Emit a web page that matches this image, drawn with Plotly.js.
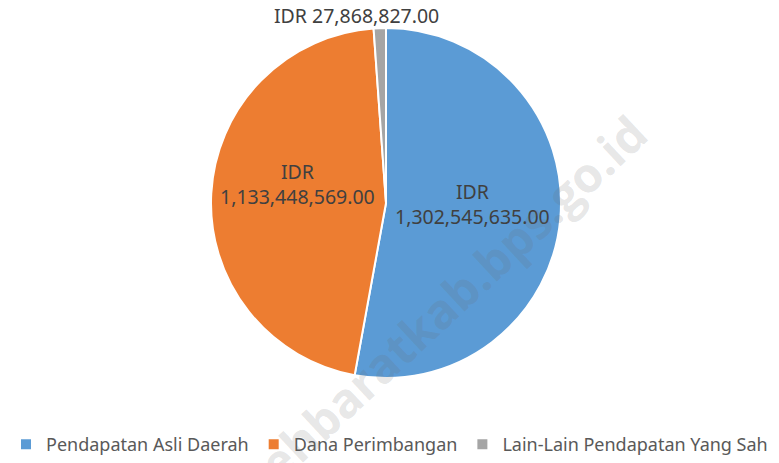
<!DOCTYPE html>
<html>
<head>
<meta charset="utf-8">
<script src="https://cdn.plot.ly/plotly-3.0.1.min.js"></script>
<style>html,body{margin:0;padding:0;background:#fff;}#chart{width:779px;height:463px;}</style>
</head>
<body>
<div id="chart"></div>
<script>
const categories = ["Pendapatan Asli Daerah", "Dana Perimbangan", "Lain-Lain Pendapatan Yang Sah"];
const values = [1302545635.00, 1133448569.00, 27868827.00];
const colors = ["#5B9BD5", "#ED7D31", "#A5A5A5"];
const currency = "IDR";
const watermark = "acehbaratkab.bps.go.id";

function fmt(v) {
  return v.toLocaleString("en-US", {minimumFractionDigits: 2, maximumFractionDigits: 2});
}

const W = 779, H = 463;
const cx = 386, cy = 203, r = 175;

const trace = {
  type: "pie",
  labels: categories,
  values: values,
  sort: false,
  direction: "clockwise",
  rotation: 0,
  textinfo: "none",
  hoverinfo: "label+value",
  marker: {colors: colors, line: {color: "#FFFFFF", width: 2}},
  domain: {x: [(cx - r) / W, (cx + r) / W], y: [(H - cy - r) / H, (H - cy + r) / H]}
};

const labelFont = {family: "Noto Sans, Open Sans, sans-serif", size: 19.5, color: "#404040"};
// label positions (paper coords) for each slice
const labelPos = [[472, 204, true], [297, 184, true], [356, 16, false]];
const annotations = values.map((v, i) => ({
  xref: "paper", yref: "paper",
  x: labelPos[i][0] / W, y: 1 - labelPos[i][1] / H,
  xanchor: "center", yanchor: "middle",
  showarrow: false,
  text: labelPos[i][2] ? currency + "<br>" + fmt(v) : currency + " " + fmt(v),
  font: labelFont
}));
annotations.push({
  xref: "paper", yref: "paper", x: 432 / W, y: 1 - 316 / H,
  xanchor: "center", yanchor: "middle", showarrow: false,
  text: "<b>" + watermark + "</b>", textangle: -43,
  font: {family: "Open Sans, sans-serif", size: 48, color: "rgba(110,110,110,0.18)"}
});

const layout = {
  width: W, height: H,
  margin: {l: 0, r: 0, t: 0, b: 0},
  paper_bgcolor: "#FFFFFF",
  showlegend: true,
  legend: {
    orientation: "h", x: 0.5, xanchor: "center", y: 0.0, yanchor: "bottom",
    font: {family: "Noto Sans, Open Sans, sans-serif", size: 18, color: "#595959"},
    itemwidth: 30
  },
  annotations: annotations
};

Plotly.newPlot("chart", [trace], layout, {displayModeBar: false, staticPlot: true});
</script>
</body>
</html>
